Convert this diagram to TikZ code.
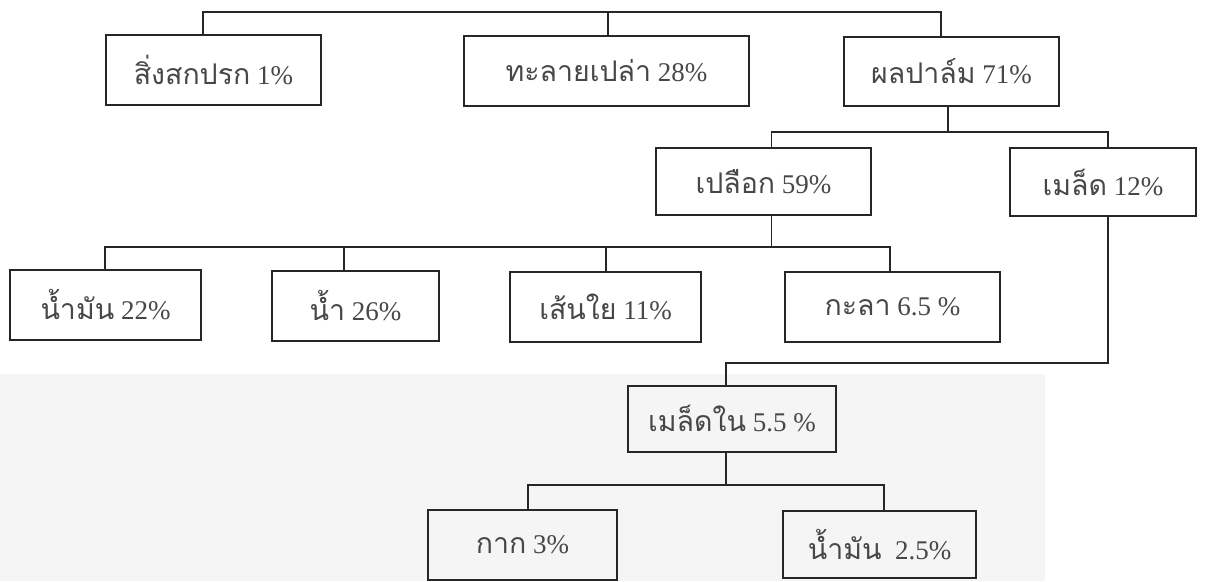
\documentclass[tikz,border=0pt]{standalone}
\usepackage{fontspec}
\setmainfont{Liberation Serif}
\newfontfamily\thaifont[Script=Thai]{Loma}
\newcommand{\thtxt}[1]{{\thaifont\fontsize{28.5}{32}\selectfont #1}}
\begin{document}
\begin{tikzpicture}[x=1pt,y=-1pt,
  box/.style={draw=black!85, line width=1.3pt, inner sep=0pt, rectangle,
    font=\fontsize{27}{32}\selectfont, text=black!72},
  link/.style={draw=black!85, line width=1.2pt}]
\useasboundingbox (0,0) rectangle (1207,581);
\fill[black!4] (0,374) rectangle (1045,581);
% nodes
\node[box, minimum width=215pt, minimum height=70pt] (dirt)   at (213.5,70)  {\thtxt{สิ่งสกปรก} 1\%};
\node[box, minimum width=285pt, minimum height=70pt] (bunch)  at (606.5,71)  {\thtxt{ทะลายเปล่า} 28\%};
\node[box, minimum width=215pt, minimum height=69pt] (fruit)  at (951.5,71.5) {\thtxt{ผลปาล์ม} 71\%};
\node[box, minimum width=215pt, minimum height=67pt] (peel)   at (763.5,181.5) {\thtxt{เปลือก} 59\%};
\node[box, minimum width=186pt, minimum height=68pt] (seed)   at (1103,182)  {\thtxt{เมล็ด} 12\%};
\node[box, minimum width=191pt, minimum height=70pt] (oila)   at (105.5,305) {\thtxt{น้ำมัน} 22\%};
\node[box, minimum width=167pt, minimum height=70pt] (water)  at (355.5,306) {\thtxt{น้ำ} 26\%};
\node[box, minimum width=191pt, minimum height=70pt] (fiber)  at (605.5,307) {\thtxt{เส้นใย} 11\%};
\node[box, minimum width=215pt, minimum height=70pt] (shell)  at (892.5,307) {\thtxt{กะลา} 6.5 \%};
\node[box, minimum width=208pt, minimum height=66pt] (kernel) at (732,419)   {\thtxt{เมล็ดใน} 5.5 \%};
\node[box, minimum width=189pt, minimum height=70pt] (cake)   at (522.5,545) {\thtxt{กาก} 3\%};
\node[box, minimum width=193pt, minimum height=67pt] (oilb)   at (879.5,544.5) {\thtxt{น้ำมัน}\ \ 2.5\%};
% junction coordinates
\coordinate (t1) at (203,12);
\coordinate (t2) at (608,12);
\coordinate (t3) at (941,12);
\coordinate (f1) at (948,132);
\coordinate (f2) at (771.5,132);
\coordinate (f3) at (1108,132);
\coordinate (p1) at (771.5,247);
\coordinate (pa) at (105,247);
\coordinate (pb) at (344,247);
\coordinate (pc) at (606,247);
\coordinate (pd) at (890,247);
\coordinate (s1) at (1108,363);
\coordinate (s2) at (726,363);
\coordinate (k1) at (726,485);
\coordinate (ka) at (528,485);
\coordinate (kb) at (884,485);
% connectors
\draw[link] (dirt.north -| t1) -- (t1) -- (t3) -- (fruit.north -| t3);
\draw[link] (t2) -- (bunch.north -| t2);
\draw[link] (fruit.south -| f1) -- (f1);
\draw[link] (peel.north -| f2) -- (f2) -- (f3) -- (seed.north -| f3);
\draw[link] (peel.south -| p1) -- (p1);
\draw[link] (oila.north -| pa) -- (pa) -- (pd) -- (shell.north -| pd);
\draw[link] (pb) -- (water.north -| pb);
\draw[link] (pc) -- (fiber.north -| pc);
\draw[link] (seed.south -| s1) -- (s1) -- (s2) -- (kernel.north -| s2);
\draw[link] (kernel.south -| k1) -- (k1);
\draw[link] (cake.north -| ka) -- (ka) -- (kb) -- (oilb.north -| kb);
\end{tikzpicture}
\end{document}
